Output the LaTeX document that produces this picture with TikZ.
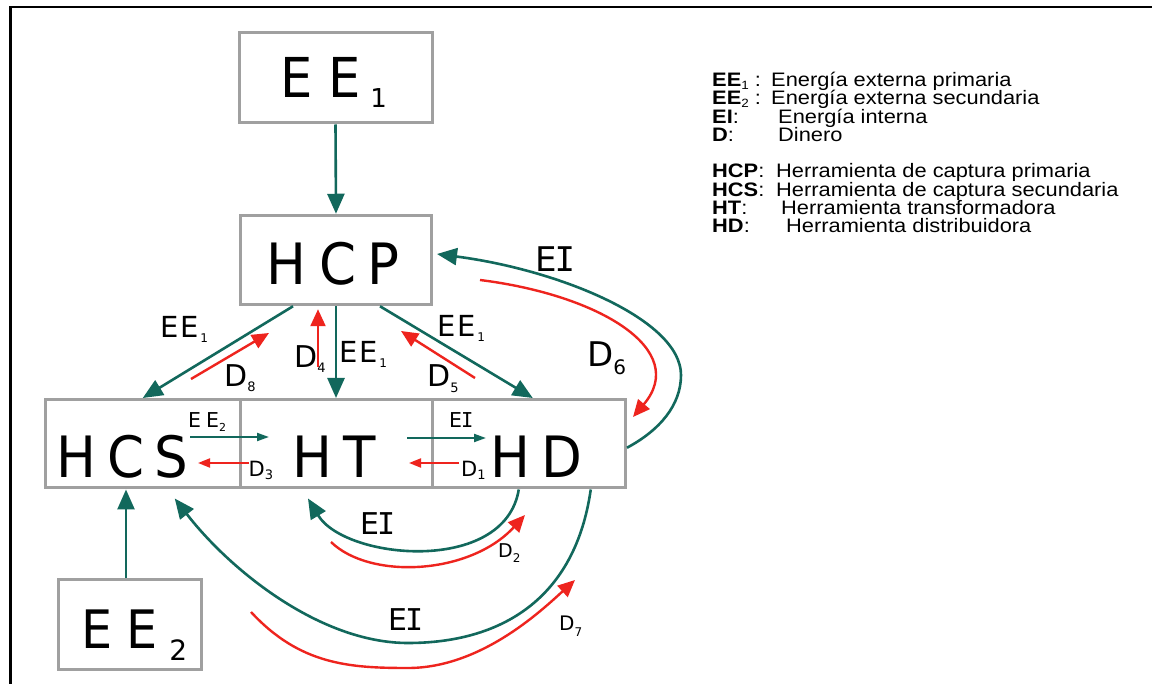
\documentclass[tikz,border=0pt]{standalone}
\usepackage{fontspec}
\usepackage{graphicx}
\usetikzlibrary{arrows.meta,calc}
\setmainfont{Liberation Sans}
\newfontfamily\df{DejaVu Sans}
\newfontfamily\dm{DejaVu Sans Mono}
\newcommand\fsz[1]{\fontsize{#1}{#1}\selectfont}
\newcommand\nrw[1]{\scalebox{0.93}[1]{#1}}
\definecolor{tealc}{RGB}{18,104,92}
\definecolor{redc}{RGB}{238,36,30}
\definecolor{boxgray}{RGB}{160,160,160}
\begin{document}
\begin{tikzpicture}[x=1pt,y=-1pt,
  box/.style={draw=boxgray, line width=3pt, inner sep=0pt},
  txt/.style={anchor=base west, inner sep=0pt, text=black, font=\df},
  lg/.style={anchor=base west, inner sep=0pt, text=black, font=\fsz{19.5}},
  ea/.style={draw=tealc, line width=2.6pt, -{Triangle[length=20pt,width=17pt]}},
  ra/.style={draw=redc, line width=2.4pt, -{Triangle[length=17pt,width=15pt]}},
  esa/.style={draw=tealc, line width=2pt, -{Triangle[length=12pt,width=8pt]}},
  rsa/.style={draw=redc, line width=2pt, -{Triangle[length=12pt,width=9pt]}}]
\useasboundingbox (0,0) rectangle (1152,684);
\fill[white] (0,0) rectangle (1152,684);
\draw[line width=2.5pt] (10.5,684) -- (10.5,7) -- (1152,7);

% boxes
\node[box, minimum width=193pt, minimum height=90pt] (ee1) at (335.5,78) {};
\node[box, minimum width=191pt, minimum height=89.5pt] (hcp) at (336,260) {};
\node[box, minimum width=194.5pt, minimum height=88.5pt] (hcs) at (142.75,443.75) {};
\node[box, minimum width=192pt, minimum height=88.5pt] (ht) at (336,443.75) {};
\node[box, minimum width=193.5pt, minimum height=88.5pt] (hd) at (528.75,443.75) {};
\node[box, minimum width=143pt, minimum height=90pt] (ee2) at (130,624.5) {};

% box texts
\node[txt] (tee1) at (280.5,98) {\fsz{55}\nrw{E}\hspace{15pt}\nrw{E}\hspace{10pt}\raisebox{-10pt}{\fsz{26}1}};
\node[txt] (thcp) at (266,285) {\fsz{57}\nrw{H}\hspace{13pt}\nrw{C}\hspace{11pt}\nrw{P}};
\node[txt] (thcs) at (56.5,478) {\fsz{57}\nrw{H}\hspace{11pt}\nrw{C}\hspace{10pt}\nrw{S}};
\node[txt] (tht) at (292.5,478) {\fsz{57}\nrw{H}\hspace{11pt}\nrw{T}};
\node[txt] (thd) at (490.5,478) {\fsz{57}\nrw{H}\hspace{11pt}\nrw{D}};
\node[txt] (tee2) at (80.8,648) {\fsz{53}\nrw{E}\hspace{14pt}\nrw{E}\hspace{12pt}\raisebox{-12pt}{\fsz{28}2}};

% straight connectors
\draw[ea] (ee1.south) -- (hcp.north);
\draw[ea] ($(hcp.south)+(-43,0)$) -- (hcs.north);
\draw[ea] (hcp.south) -- (ht.north);
\draw[ea] ($(hcp.south)+(44,0)$) -- ($(hd.north)+(4,0)$);
\coordinate (t2) at ($(ee2.north)+(-4,0)$);
\draw[ea] (t2) -- (t2 |- hcs.south);

\coordinate (d8a) at (191,379); \coordinate (d8b) at (269,333);
\draw[ra] (d8a) -- (d8b);
\coordinate (d4a) at (318,367);
\draw[ra] (d4a) -- ($(hcp.south)+(-18,3)$);
\coordinate (d5a) at (475,378); \coordinate (d5b) at (401,331);
\draw[ra] (d5a) -- (d5b);

% short horizontal arrows
\coordinate (ee2a) at (190,437); \coordinate (ee2b) at (269,437);
\draw[esa] (ee2a) -- (ee2b);
\coordinate (d3a) at (249,463); \coordinate (d3b) at (198,463);
\draw[rsa] (d3a) -- (d3b);
\coordinate (eia) at (407,438); \coordinate (eib) at (486,438);
\draw[esa] (eia) -- (eib);
\coordinate (d1a) at (459,463); \coordinate (d1b) at (409,463);
\draw[rsa] (d1a) -- (d1b);

% big right arcs
\draw[ea] ($(hd.east)+(0,4)$) .. controls (660,430) and (681,405) .. (681,375)
  .. controls (681,320) and (560,270) .. ($(hcp.east)+(4,-6)$);
\coordinate (d6a) at (480,280);
\draw[ra] (d6a) .. controls (600,295) and (690,350) .. ($(hd.north east)+(6,19)$);

% bottom arcs
\draw[ea] ($(hd.south)+(-10,0)$) .. controls (505,575) and (345,560) .. ($(ht.south)+(-28,9)$);
\coordinate (d2a) at (331,542); \coordinate (d2b) at (525,515);
\draw[ra] (d2a) .. controls (370,580) and (470,575) .. (d2b);
\draw[ea] ($(hd.south)+(62,0)$) .. controls (575,600) and (500,643) .. (408,643)
  .. controls (320,643) and (230,570) .. ($(hcs.south)+(32,9)$);
\coordinate (d7a) at (251,612); \coordinate (d7b) at (575,580);
\draw[ra] (d7a) .. controls (300,665) and (350,668) .. (408,668)
  .. controls (480,668) and (540,612) .. (d7b);

% connector labels
\node[txt] (lee1a) at (160,338) {\fsz{29}E\hspace{1.5pt}E\hspace{2pt}\raisebox{-5pt}{\fsz{12}1}};
\node[txt] (lee1b) at (339,363) {\fsz{29}E\hspace{1.5pt}E\hspace{2pt}\raisebox{-5pt}{\fsz{12}1}};
\node[txt] (lee1c) at (437,337) {\fsz{29}E\hspace{1.5pt}E\hspace{2pt}\raisebox{-5pt}{\fsz{12}1}};
\node[txt] (ld8) at (224,387) {\fsz{30}D\raisebox{-5pt}{\fsz{13}8}};
\node[txt] (ld4) at (294,368) {\fsz{30}D\raisebox{-5pt}{\fsz{13}4}};
\node[txt] (ld5) at (427,387) {\fsz{30}D\raisebox{-6pt}{\fsz{13}5}};
\node[txt] (ld6) at (587,367) {\fsz{34}D\raisebox{-8pt}{\fsz{20}6}};
\node[txt] (lei1) at (535,272) {\fsz{34}E\hspace{-2pt}{\dm I}};
\node[txt] (lee2) at (188,428) {\fsz{20.5}E\hspace{5pt}E\raisebox{-4pt}{\fsz{11}2}};
\node[txt] (ld3) at (248.5,477) {\fsz{21}D\raisebox{-3pt}{\fsz{13}3}};
\node[txt] (lei2) at (449,428) {\fsz{20.5}E\hspace{-1pt}{\dm I}};
\node[txt] (ld1) at (461,477) {\fsz{21}D\raisebox{-3pt}{\fsz{13}1}};
\node[txt] (lei3) at (360,535) {\fsz{30}E\hspace{-2pt}{\dm I}};
\node[txt] (ld2) at (498,558) {\fsz{19}D\raisebox{-5pt}{\fsz{12}2}};
\node[txt] (lei4) at (388,630) {\fsz{30}E\hspace{-2pt}{\dm I}};
\node[txt] (ld7) at (559,630) {\fsz{20}D\raisebox{-6pt}{\fsz{12}7}};

% legend
\node[lg] (k1) at (712,86.5) {\scalebox{1.12}[1]{\textbf{EE}\raisebox{-3pt}{\fsz{12}1} :}};
\node[lg] (v1) at (771,86.5) {\scalebox{1.12}[1]{Energía externa primaria}};
\node[lg] (k2) at (712,104.8) {\scalebox{1.12}[1]{\textbf{EE}\raisebox{-3pt}{\fsz{12}2} :}};
\node[lg] (v2) at (771,104.8) {\scalebox{1.12}[1]{Energía externa secundaria}};
\node[lg] (k3) at (712,123.1) {\scalebox{1.12}[1]{\textbf{EI}:}};
\node[lg] (v3) at (778,123.1) {\scalebox{1.12}[1]{Energía interna}};
\node[lg] (k4) at (712,141.4) {\scalebox{1.12}[1]{\textbf{D}:}};
\node[lg] (v4) at (778,141.4) {\scalebox{1.12}[1]{Dinero}};
\node[lg] (k5) at (712,178) {\scalebox{1.12}[1]{\textbf{HCP}:}};
\node[lg] (v5) at (776,178) {\scalebox{1.12}[1]{Herramienta de captura primaria}};
\node[lg] (k6) at (712,196.3) {\scalebox{1.12}[1]{\textbf{HCS}:}};
\node[lg] (v6) at (776,196.3) {\scalebox{1.12}[1]{Herramienta de captura secundaria}};
\node[lg] (k7) at (712,214.6) {\scalebox{1.12}[1]{\textbf{HT}:}};
\node[lg] (v7) at (781,214.6) {\scalebox{1.12}[1]{Herramienta transformadora}};
\node[lg] (k8) at (712,232.9) {\scalebox{1.12}[1]{\textbf{HD}:}};
\node[lg] (v8) at (786,232.9) {\scalebox{1.12}[1]{Herramienta distribuidora}};
\end{tikzpicture}
\end{document}
